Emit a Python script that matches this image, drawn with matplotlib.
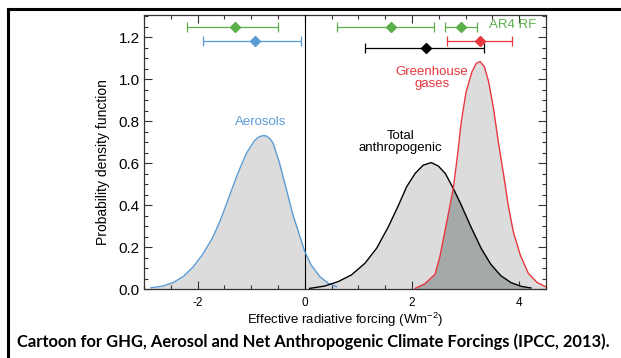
import numpy as np
import matplotlib
matplotlib.use("Agg")
import matplotlib.pyplot as plt
from matplotlib.lines import Line2D
from matplotlib.ticker import MultipleLocator, FormatStrFormatter
from matplotlib.path import Path
from matplotlib.patches import PathPatch

plt.rcParams['font.family'] = ['Liberation Sans', 'DejaVu Sans']
plt.rcParams['axes.unicode_minus'] = False
plt.rcParams['mathtext.fontset'] = 'custom'
plt.rcParams['mathtext.rm'] = 'Liberation Sans'
plt.rcParams['mathtext.it'] = 'Liberation Sans:italic'

# probability density curves
aer_x = [-2.87, -2.65, -2.46, -2.27, -2.09, -1.90, -1.71, -1.56, -1.40, -1.25, -1.09,
         -0.94, -0.87, -0.81, -0.76, -0.72, -0.65, -0.59, -0.47, -0.34, -0.22, -0.09,
         0.0, 0.12, 0.28, 0.44, 0.59]
aer_y = [0.006, 0.014, 0.030, 0.059, 0.103, 0.167, 0.249, 0.337, 0.448, 0.551, 0.646,
         0.706, 0.722, 0.729, 0.730, 0.729, 0.716, 0.694, 0.598, 0.471, 0.352, 0.249,
         0.178, 0.114, 0.059, 0.027, 0.011]

tot_x = [0.09, 0.37, 0.62, 0.87, 1.12, 1.34, 1.56, 1.75, 1.90, 2.06, 2.21, 2.36, 2.49,
         2.62, 2.77, 2.91, 3.10, 3.29, 3.47, 3.66, 3.85, 4.05, 4.22]
tot_y = [0.003, 0.014, 0.035, 0.067, 0.122, 0.194, 0.297, 0.400, 0.487, 0.551, 0.590, 0.602, 0.586,
         0.551, 0.479, 0.405, 0.296, 0.194, 0.118, 0.063, 0.030, 0.012, 0.005]

ghg_x = [2.06, 2.24, 2.43, 2.52, 2.65, 2.77, 2.85, 2.92, 3.01, 3.12, 3.20, 3.27, 3.35,
         3.43, 3.52, 3.61, 3.71, 3.80, 3.89, 4.02, 4.17, 4.33, 4.49]
ghg_y = [0.003, 0.025, 0.070, 0.154, 0.321, 0.479, 0.638, 0.797, 0.940, 1.035, 1.075, 1.083, 1.059,
         0.987, 0.860, 0.702, 0.543, 0.392, 0.273, 0.162, 0.075, 0.032, 0.011]

# best estimate and ranges (AR4 RF in green, AR5 ERF coloured)
ar4_best = [-1.30, 1.60, 2.91]
ar4_low = [-2.19, 0.60, 2.62]
ar4_high = [-0.50, 2.41, 3.21]
ar4_level = 1.25

ar5_names = ['Aerosols', 'Total', 'GHG']
ar5_best = [-0.93, 2.27, 3.26]
ar5_low = [-1.90, 1.13, 2.66]
ar5_high = [-0.08, 3.35, 3.87]
ar5_level = [1.18, 1.15, 1.18]

BLUE = '#5b9bd5'
RED = '#e8383d'
GREEN = '#5cb04c'
FILL = '#dcdcdc'
DARK = '#a6a9a9'

fig = plt.figure(figsize=(6.21, 3.58), dpi=100)
ax = fig.add_axes([0.2319, 0.1927, 0.6473, 0.7654])

for xs, ys in [(aer_x, aer_y), (tot_x, tot_y), (ghg_x, ghg_y)]:
    ax.fill_between(xs, ys, 0, color=FILL, lw=0, zorder=1)

# overlap of total and GHG: fill total clipped to the GHG shape
ghg_poly = np.column_stack([[ghg_x[0]] + ghg_x + [ghg_x[-1]], [0] + ghg_y + [0]])
clip = PathPatch(Path(ghg_poly), transform=ax.transData, facecolor='none', edgecolor='none')
ax.add_patch(clip)
dark = ax.fill_between(tot_x, tot_y, 0, color=DARK, lw=0, zorder=2)
dark.set_clip_path(clip)

ax.axvline(0, color='black', lw=0.8, zorder=3)

ax.plot(aer_x, aer_y, color=BLUE, lw=1.0, zorder=4, solid_joinstyle='round')
ax.plot(tot_x, tot_y, color='black', lw=1.0, zorder=4, solid_joinstyle='round')
ax.plot(ghg_x, ghg_y, color=RED, lw=1.0, zorder=4, solid_joinstyle='round')

# error bars
for b, lo, hi in zip(ar4_best, ar4_low, ar4_high):
    ax.errorbar([b], [ar4_level], xerr=[[b - lo], [hi - b]], fmt='D', color=GREEN,
                ms=5, lw=0.9, capsize=3.5, capthick=0.9, zorder=5)
for b, lo, hi, lev, c in zip(ar5_best, ar5_low, ar5_high, ar5_level, [BLUE, 'black', RED]):
    ax.errorbar([b], [lev], xerr=[[b - lo], [hi - b]], fmt='D', color=c,
                ms=5, lw=0.9, capsize=3.5, capthick=0.9, zorder=5)

ax.text(3.44, 1.257, 'AR4 RF', color=GREEN, fontsize=9.5, ha='left', va='center')
ax.text(-0.82, 0.795, 'Aerosols', color=BLUE, fontsize=9.5, ha='center', va='center')
ax.text(2.37, 1.005, 'Greenhouse\ngases', color=RED, fontsize=9.5, ha='center', va='center',
        linespacing=1.05)
ax.text(1.78, 0.70, 'Total\nanthropogenic', color='black', fontsize=9.5, ha='center', va='center',
        linespacing=1.05)

ax.set_xlim(-3, 4.5)
ax.set_ylim(0, 1.305)
ax.xaxis.set_major_locator(MultipleLocator(2))
ax.xaxis.set_minor_locator(MultipleLocator(0.5))
ax.yaxis.set_major_locator(MultipleLocator(0.2))
ax.yaxis.set_minor_locator(MultipleLocator(0.05))
ax.yaxis.set_major_formatter(FormatStrFormatter('%.1f'))
ax.tick_params(which='both', direction='in', top=True, right=True, color='#333333', width=0.8)
ax.tick_params(which='major', length=6)
ax.tick_params(which='minor', length=3)
ax.tick_params(axis='x', labelsize=8.5, pad=6)
ax.tick_params(axis='y', labelsize=11, pad=3)
for s in ax.spines.values():
    s.set_color('#333333')
    s.set_linewidth(0.9)

ax.set_xlabel('Effective radiative forcing (Wm$^{-2}$)', fontsize=9.5)
ax.xaxis.set_label_coords(0.5, -0.08)
ax.set_ylabel('Probability density function', fontsize=10, va='center')
ax.yaxis.set_label_coords(-0.103, 0.465)

fig.text(0.027, 0.0447, 'Cartoon for GHG, Aerosol and Net Anthropogenic Climate Forcings (IPCC, 2013).',
         fontsize=11.9, fontweight='bold', family=['Lato', 'DejaVu Sans'], ha='left', va='center')

# frame lines at top and left of the picture
fig.add_artist(Line2D([7.5 / 621, 1], [1 - 9 / 358, 1 - 9 / 358], transform=fig.transFigure,
                      color='black', lw=2.2))
fig.add_artist(Line2D([8 / 621, 8 / 621], [0, 1 - 9 / 358], transform=fig.transFigure,
                      color='black', lw=2.2))

fig.savefig('out.png', dpi=100)
